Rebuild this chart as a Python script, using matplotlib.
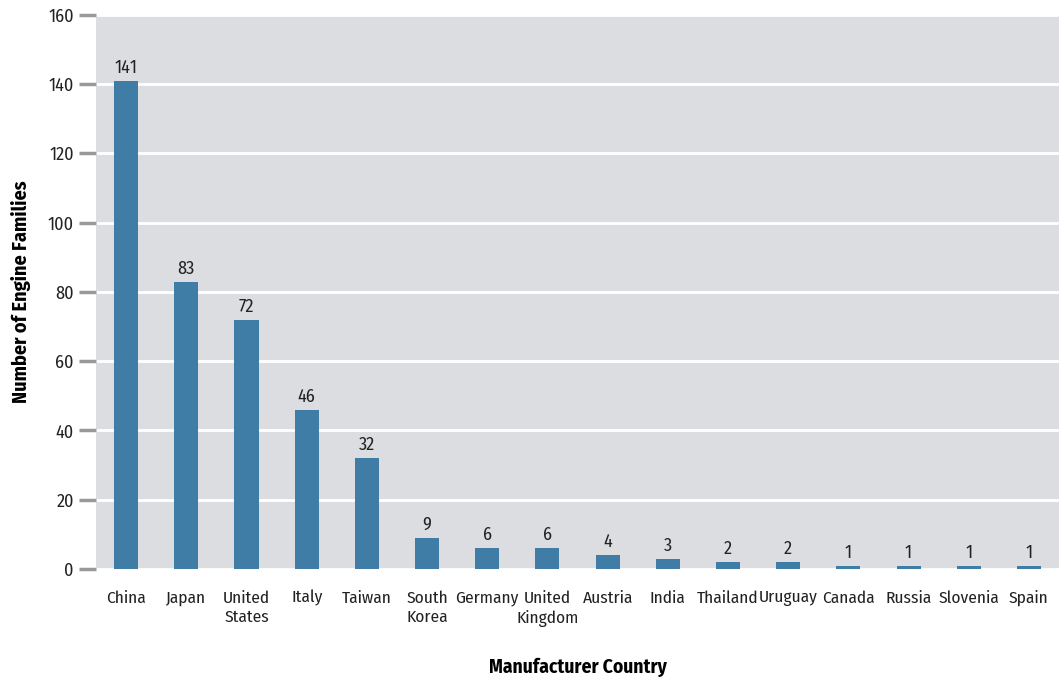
import matplotlib.pyplot as plt
import numpy as np

countries = ["China", "Japan", "United\nStates", "Italy", "Taiwan", "South\nKorea",
             "Germany", "United\nKingdom", "Austria", "India", "Thailand", "Uruguay",
             "Canada", "Russia", "Slovenia", "Spain"]
counts = [141, 83, 72, 46, 32, 9, 6, 6, 4, 3, 2, 2, 1, 1, 1, 1]
yticks = [0, 20, 40, 60, 80, 100, 120, 140, 160]

plt.rcParams['font.family'] = ['Fira Sans Condensed', 'DejaVu Sans']

fig = plt.figure(figsize=(10.59, 6.79), dpi=100)
ax = fig.add_axes([0.0907, 0.162, 0.9093, 0.816])
ax.set_facecolor('#dcdde0')

x = np.arange(len(countries))
ax.bar(x, counts, width=0.4, color='#3f7da6', zorder=3)
for xi, v in zip(x, counts):
    ax.annotate(str(v), (xi, v), xytext=(0, 3), textcoords='offset points',
                ha='center', va='bottom', fontsize=13, color='#222222')

ax.set_xlim(-0.5, len(countries) - 0.5)
ax.set_ylim(0, 160)
ax.set_yticks(yticks)
ax.yaxis.grid(True, color='white', linewidth=2, zorder=0)
ax.set_axisbelow(True)
for s in ax.spines.values():
    s.set_visible(False)

ax.set_xticks(x)
ax.set_xticklabels(countries, fontsize=12.5, color='#222222', linespacing=1.3)
ax.tick_params(axis='x', length=0, pad=15)
ax.tick_params(axis='y', length=12, width=2.5, color='#999999', labelsize=13,
               labelcolor='#222222', pad=4)

ax.set_ylabel('Number of Engine Families', fontsize=14.5, fontweight='bold', labelpad=12)
ax.set_xlabel('Manufacturer Country', fontsize=14, fontweight='bold', labelpad=22)

plt.savefig('out.png', dpi=100)
